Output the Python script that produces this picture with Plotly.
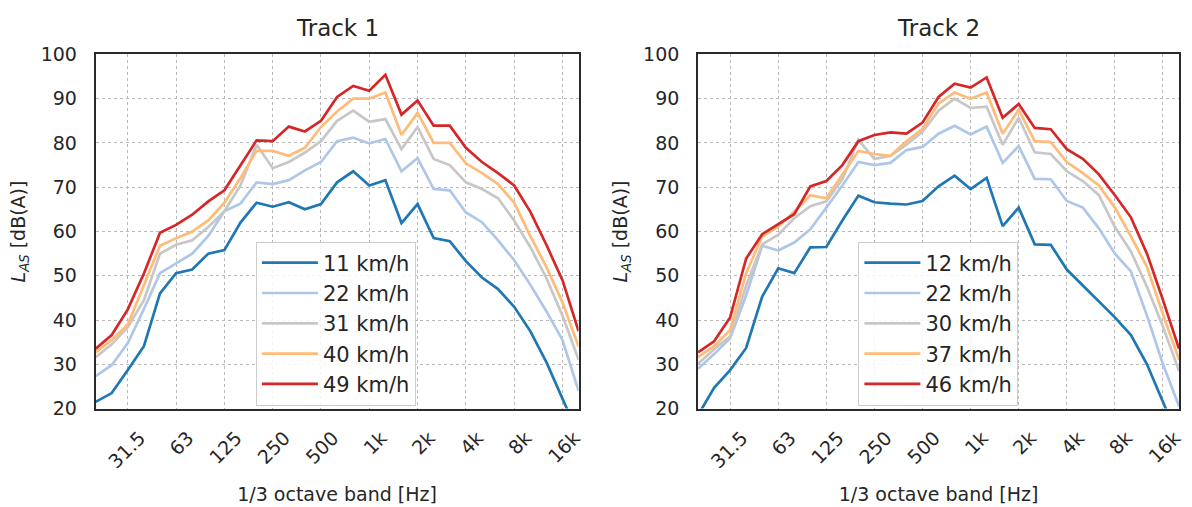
import plotly.graph_objects as go

# 1/3 octave bands (20 Hz .. 20 kHz)
bands = ["20", "25", "31.5", "40", "50", "63", "80", "100", "125", "160", "200",
         "250", "315", "400", "500", "630", "800", "1k", "1.25k", "1.6k", "2k",
         "2.5k", "3.15k", "4k", "5k", "6.3k", "8k", "10k", "12.5k", "16k", "20k"]
tick_labels = ["31.5", "63", "125", "250", "500", "1k", "2k", "4k", "8k", "16k"]

# Track 1
t1_names = ["11 km/h", "22 km/h", "31 km/h", "40 km/h", "49 km/h"]
t1_v11 = [21.5, 23.5, 28.7, 34.1, 46.0, 50.6, 51.4, 55.0, 55.8, 62.0, 66.5, 65.6, 66.6, 65.0, 66.2,
          71.1, 73.6, 70.4, 71.6, 61.9, 66.2, 58.5, 57.8, 53.3, 49.6, 47.0, 43.0, 37.5, 30.5, 22.5, 14.0]
t1_v22 = [27.3, 29.8, 34.8, 42.5, 50.6, 52.8, 55.0, 59.0, 64.6, 66.3, 71.1, 70.7, 71.6, 73.8, 75.7,
          80.4, 81.2, 79.9, 80.9, 73.6, 76.6, 69.6, 69.3, 64.3, 62.1, 58.0, 53.5, 48.0, 42.0, 35.5, 24.0]
t1_v31 = [31.6, 34.5, 38.4, 44.5, 55.0, 57.0, 58.0, 61.0, 64.6, 70.4, 79.6, 74.3, 75.7, 77.8, 80.4,
          85.0, 87.3, 84.8, 85.4, 78.6, 83.6, 76.4, 75.0, 71.1, 69.6, 67.5, 62.5, 56.5, 49.5, 41.0, 31.0]
t1_v40 = [32.7, 35.5, 39.0, 47.8, 56.8, 58.5, 60.0, 62.5, 66.5, 72.1, 78.2, 78.2, 77.1, 78.9, 83.6,
          87.1, 90.0, 90.0, 91.4, 81.8, 86.8, 80.0, 80.0, 75.4, 73.2, 70.7, 66.5, 59.0, 52.0, 44.0, 34.0]
t1_v49 = [33.5, 36.6, 42.4, 50.5, 59.7, 61.5, 63.8, 66.8, 69.3, 75.0, 80.6, 80.4, 83.7, 82.6, 85.0,
          90.4, 92.9, 91.8, 95.4, 86.4, 89.6, 83.9, 83.9, 78.9, 75.7, 73.2, 70.4, 64.5, 57.0, 49.0, 37.5]

# Track 2
t2_names = ["12 km/h", "22 km/h", "30 km/h", "37 km/h", "46 km/h"]
t2_v12 = [18.5, 24.7, 28.7, 33.7, 45.3, 51.7, 50.6, 56.4, 56.5, 62.5, 68.1, 66.6, 66.3, 66.1, 66.9,
          70.2, 72.6, 69.6, 72.1, 61.2, 65.4, 57.1, 57.0, 51.4, 47.8, 44.2, 40.6, 36.6, 30.0, 21.5, 13.0]
t2_v22 = [29.0, 32.3, 35.9, 45.6, 56.8, 55.7, 57.5, 60.5, 65.4, 70.4, 75.7, 75.0, 75.5, 78.4, 79.1,
          82.1, 83.9, 81.9, 83.7, 75.5, 79.3, 71.9, 71.8, 66.9, 65.4, 60.7, 55.0, 51.0, 41.0, 30.0, 20.5]
t2_v30 = [30.1, 33.4, 36.3, 47.8, 57.1, 59.3, 63.0, 65.7, 66.8, 71.8, 80.7, 76.4, 77.1, 79.6, 82.5,
          87.3, 90.0, 87.9, 88.2, 79.6, 85.7, 77.9, 77.5, 73.6, 71.4, 68.2, 61.0, 55.5, 47.5, 38.5, 28.5]
t2_v37 = [31.6, 34.1, 37.7, 50.6, 58.9, 61.1, 64.5, 68.2, 67.5, 72.9, 78.2, 77.5, 77.1, 80.4, 83.2,
          88.9, 91.4, 90.0, 91.4, 82.1, 87.5, 80.4, 80.2, 75.7, 73.2, 70.4, 65.4, 58.9, 52.0, 41.3, 31.0]
t2_v46 = [32.7, 35.2, 40.6, 53.9, 59.4, 61.6, 63.9, 70.2, 71.4, 75.0, 80.4, 81.8, 82.4, 82.1, 84.6,
          90.4, 93.4, 92.5, 94.8, 85.7, 88.8, 83.4, 83.1, 78.6, 76.4, 72.9, 68.2, 63.2, 55.0, 44.5, 33.5]

colors = ["#1f77b4", "#aec7e8", "#c7c7c7", "#ffbb78", "#d62728"]
FONT = "DejaVu Sans"
TXT = "#262626"

fig = go.Figure()
for i, (name, vals) in enumerate(zip(t1_names, [t1_v11, t1_v22, t1_v31, t1_v40, t1_v49])):
    fig.add_trace(go.Scatter(x=bands, y=vals, mode="lines", name=name,
                             line=dict(color=colors[i], width=2.7),
                             xaxis="x", yaxis="y", legend="legend",
                             legendgroup="a%d" % i))
for i, (name, vals) in enumerate(zip(t2_names, [t2_v12, t2_v22, t2_v30, t2_v37, t2_v46])):
    fig.add_trace(go.Scatter(x=bands, y=vals, mode="lines", name=name,
                             line=dict(color=colors[i], width=2.7),
                             xaxis="x2", yaxis="y2", legend="legend2",
                             legendgroup="b%d" % i))

W, H = 1192, 507
left_dom = [96 / W, 581 / W]
right_dom = [701 / W, 1184 / W]
y_dom = [1 - 415.6 / H, 1 - 45.4 / H]

xcommon = dict(type="category", categoryorder="array", categoryarray=bands,
               range=[0, len(bands) - 1], tickmode="array", tickvals=tick_labels,
               ticktext=tick_labels, tickangle=-45, ticks="", ticklabelshift=12,
               ticklabelstandoff=9,
               showgrid=True, gridcolor="#b8b8b8", griddash="dot", gridwidth=1,
               showline=True, mirror=True, linecolor="#2a2a2a", linewidth=1.8,
               tickfont=dict(family=FONT, size=19, color=TXT),
               title=dict(text="1/3 octave band [Hz]", font=dict(family=FONT, size=19, color=TXT),
                          standoff=16),
               zeroline=False)
ycommon = dict(range=[20, 100], dtick=10, tick0=20, ticks="", ticklabelstandoff=13,
               showgrid=True, gridcolor="#b8b8b8", griddash="dot", gridwidth=1,
               showline=True, mirror=True, linecolor="#2a2a2a", linewidth=1.8,
               tickfont=dict(family=FONT, size=19, color=TXT),
               title=dict(text="<i>L</i><sub><i>AS</i></sub> [dB(A)]",
                          font=dict(family=FONT, size=19, color=TXT), standoff=10),
               zeroline=False)

legcommon = dict(xanchor="left", yanchor="top", bgcolor="rgba(255,255,255,0.85)",
                 bordercolor="#cccccc", borderwidth=1,
                 font=dict(family=FONT, size=21, color=TXT), tracegroupgap=0,
                 itemwidth=56)

fig.update_layout(
    width=W, height=H,
    margin=dict(l=0, r=0, t=0, b=0),
    paper_bgcolor="white", plot_bgcolor="white",
    xaxis=dict(domain=left_dom, anchor="y", **xcommon),
    yaxis=dict(domain=y_dom, anchor="x", **ycommon),
    xaxis2=dict(domain=right_dom, anchor="y2", **xcommon),
    yaxis2=dict(domain=y_dom, anchor="x2", **ycommon),
    legend=dict(x=257 / W, y=1 - 241 / H, **legcommon),
    legend2=dict(x=862 / W, y=1 - 241 / H, **legcommon),
    annotations=[
        dict(text="Track 1", x=sum(left_dom) / 2, y=1 - 18 / H, xref="paper", yref="paper",
             showarrow=False, font=dict(family=FONT, size=23, color=TXT),
             xanchor="center", yanchor="middle"),
        dict(text="Track 2", x=sum(right_dom) / 2, y=1 - 18 / H, xref="paper", yref="paper",
             showarrow=False, font=dict(family=FONT, size=23, color=TXT),
             xanchor="center", yanchor="middle"),
    ],
)

fig.write_html("out.html")
